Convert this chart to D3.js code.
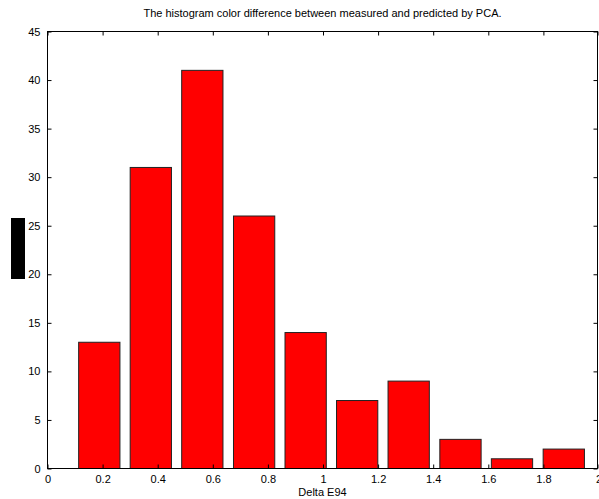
<!DOCTYPE html>
<html><head><meta charset="utf-8">
<script src="https://cdn.jsdelivr.net/npm/d3@7"></script>
<style>body{margin:0;background:#fff}svg{display:block}text{font-family:"Liberation Sans",Arial,sans-serif}</style>
</head><body>
<script>
const binCenters = [0.188, 0.375, 0.562, 0.750, 0.937, 1.124, 1.311, 1.499, 1.686, 1.874];
const counts = [13, 31, 41, 26, 14, 7, 9, 3, 1, 2];
const xTicks = [0, 0.2, 0.4, 0.6, 0.8, 1, 1.2, 1.4, 1.6, 1.8, 2];
const yTicks = [0, 5, 10, 15, 20, 25, 30, 35, 40, 45];
const title = "The histogram color difference between measured and predicted by PCA.";
const xLabel = "Delta E94";

const W = 599, H = 499;
const m = {l: 47, r: 1, t: 31, b: 31};
const svg = d3.select("body").append("svg").attr("width", W).attr("height", H);
const x = d3.scaleLinear().domain([0, 2]).range([m.l, W - m.r]);
const y = d3.scaleLinear().domain([0, 45]).range([H - m.b, m.t]);
const binW = 0.1873 * 0.8;

// bars
svg.append("g").selectAll("rect").data(counts).join("rect")
  .attr("x", (d, i) => x(binCenters[i] - binW / 2) + 0.5)
  .attr("y", d => y(d) + 0.5)
  .attr("width", (d, i) => x(binCenters[i] + binW / 2) - x(binCenters[i] - binW / 2))
  .attr("height", d => y(0) - y(d))
  .attr("fill", "#ff0000").attr("stroke", "#222").attr("stroke-width", 1);

// box
svg.append("rect").attr("x", x(0) + 0.5).attr("y", y(45) + 0.5)
  .attr("width", x(2) - x(0) - 1).attr("height", y(0) - y(45))
  .attr("fill", "none").attr("stroke", "#000").attr("stroke-width", 1);

// axes
const xb = svg.append("g").attr("transform", `translate(0.5,${y(0) + 0.5})`)
  .call(d3.axisBottom(x).tickValues(xTicks).tickSizeInner(-4).tickSizeOuter(0).tickPadding(7).tickFormat(d3.format("")));
const xt = svg.append("g").attr("transform", `translate(0.5,${y(45) + 0.5})`)
  .call(d3.axisTop(x).tickValues(xTicks).tickSizeInner(-4).tickSizeOuter(0).tickFormat(""));
const yl = svg.append("g").attr("transform", `translate(${x(0) + 0.5},0.5)`)
  .call(d3.axisLeft(y).tickValues(yTicks).tickSizeInner(-4).tickSizeOuter(0).tickPadding(7));
const yr = svg.append("g").attr("transform", `translate(${x(2) - 0.5},0.5)`)
  .call(d3.axisRight(y).tickValues(yTicks).tickSizeInner(-4).tickSizeOuter(0).tickFormat(""));
[xb, xt, yl, yr].forEach(g => {
  g.select(".domain").remove();
  g.selectAll("line").attr("stroke", "#000");
  g.selectAll("text").attr("font-size", 11).attr("fill", "#000")
    .style("font-family", '"Liberation Sans",Arial,sans-serif');
});
xb.selectAll("text").attr("dy", "0.71em");

// title and labels
svg.append("text").attr("x", (x(0) + x(2)) / 2).attr("y", 17).attr("text-anchor", "middle")
  .attr("font-size", 11).text(title);
svg.append("text").attr("x", (x(0) + x(2)) / 2).attr("y", 496).attr("text-anchor", "middle")
  .attr("font-size", 11).text(xLabel);

// y-label placeholder (black block as in reference)
svg.append("rect").attr("x", 11).attr("y", 218).attr("width", 14).attr("height", 61).attr("fill", "#000");
</script>
</body></html>
